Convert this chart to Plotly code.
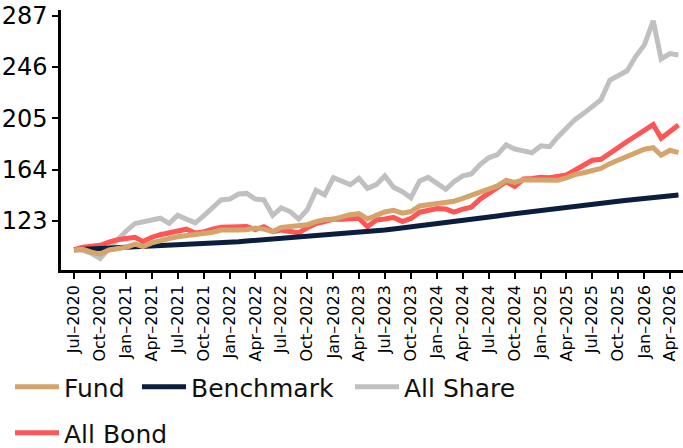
import plotly.graph_objects as go
import pandas as pd

start_month = "2020-07-01"
n_months = 71
dates = pd.date_range(start_month, periods=n_months, freq="MS")

fund = [100, 100.3, 98, 96.5, 99.8, 100.8, 102, 104.5, 102.6, 105.5,
        107.5, 109, 110.3, 111, 111.8, 112.8, 114, 115.8, 115.5, 115.8,
        116, 117.4, 116.5, 114.5, 117.8, 118.5, 118.8, 120, 122.5, 124,
        124.5, 126.5, 128, 128.8, 124.6, 127.5, 130.2, 131.5, 129.2, 130.5,
        135, 136, 137, 137.8, 138.8, 141, 143, 146, 148.5, 151,
        155.5, 153.8, 156, 156, 156.3, 156, 155.5, 157.5, 160, 161.5,
        163, 165, 168.8, 171.5, 174, 177.5, 180.3, 181.5, 175.5, 179.5,
        177.6]

benchmark = [100.0, 100.3, 100.6, 100.9, 101.2, 101.5, 101.8, 102.1, 102.4, 102.7,
             103.0, 103.3, 103.6, 104.0, 104.4, 104.8, 105.2, 105.6, 106.0, 106.4,
             106.9, 107.4, 107.9, 108.4, 108.9, 109.4, 109.9, 110.4, 110.9, 111.4,
             111.9, 112.5, 113.1, 113.7, 114.4, 115.1, 115.8, 116.6, 117.4, 118.2,
             119.0, 119.8, 120.7, 121.6, 122.5, 123.4, 124.3, 125.2, 126.1, 127.0,
             127.9, 128.8, 129.7, 130.6, 131.5, 132.3, 133.1, 133.9, 134.7, 135.5,
             136.3, 137.1, 137.9, 138.7, 139.5, 140.3, 141.0, 141.7, 142.4, 143.1,
             143.8]

all_share = [100, 99.5, 97, 93, 101, 108, 115, 121, 122.5, 123.5,
             125.2, 121, 127.5, 124.5, 121.5, 127, 133, 139.8, 140.5, 144.5,
             145, 140.5, 139.8, 127.5, 133.5, 130.5, 124.5, 132, 147.5, 143.8,
             157.5, 154.5, 152, 157, 149, 152, 159, 150, 146.4, 141.5,
             155, 157.8, 152.5, 148.3, 154.4, 159, 160.6, 168, 173.5, 176,
             183.8, 180.5, 179, 177.5, 183, 182.4, 190, 197, 204, 209,
             214, 220, 235.5, 239, 243, 254.4, 263.7, 283, 252.5, 256.8,
             255.7]

all_bond = [100, 102, 102.8, 103.5, 106, 108, 109, 110, 106.5, 110,
            112, 113.6, 115, 116.4, 113.4, 114.2, 116.5, 118, 118.2, 118.4,
            118.5, 116, 118.4, 114.5, 115.8, 114.5, 113.6, 117.5, 121, 122.5,
            124.4, 124.4, 125.2, 125.2, 118.4, 123.8, 124.5, 125.8, 122.5, 125,
            130, 131.2, 133, 132.5, 130, 132.4, 134, 140.5, 145, 149,
            154.4, 150.5, 156.5, 157, 157.9, 157.5, 158.5, 159.8, 163.5, 167,
            171.5, 172.3, 177.5, 182, 186.5, 190.9, 195.2, 200, 189.1, 194.5,
            199.7]

y_ticks = [123, 164, 205, 246, 287]

names = ["Fund", "Benchmark", "All Share", "All Bond"]
colors = {"Fund": "#d4a46a", "Benchmark": "#0b1e3d", "All Share": "#c0c0c0", "All Bond": "#ff5555"}
series = {"Fund": fund, "Benchmark": benchmark, "All Share": all_share, "All Bond": all_bond}
legend_ids = {"Fund": "legend", "Benchmark": "legend2", "All Share": "legend3", "All Bond": "legend4"}

fig = go.Figure()
for nm in ["All Share", "All Bond", "Benchmark", "Fund"]:
    fig.add_trace(go.Scatter(x=dates, y=series[nm], mode="lines", name=nm,
                             line=dict(color=colors[nm], width=5),
                             legend=legend_ids[nm]))

def px_to_paper_x(px):
    return (px - 61) / 622

def px_to_paper_y(py):
    return (270 - py) / 260

leg_font = dict(family="DejaVu Sans", size=25, color="#111111")
def leg(px, py):
    return dict(x=px_to_paper_x(px), y=px_to_paper_y(py), xanchor="left", yanchor="middle",
                bgcolor="rgba(0,0,0,0)", font=leg_font, itemwidth=44, borderwidth=0)

fig.update_layout(
    width=683, height=448,
    margin=dict(l=61, r=0, t=10, b=178, autoexpand=False),
    plot_bgcolor="white", paper_bgcolor="white",
    legend=leg(10, 387),
    legend2=leg(137, 387),
    legend3=leg(350, 387),
    legend4=leg(10, 433),
    xaxis=dict(
        type="date", range=["2020-05-16", "2026-05-17"],
        tick0="2020-07-01", dtick="M3", tickformat="%b\u2013%Y", tickangle=-90,
        showline=True, linecolor="black", linewidth=2.5,
        ticks="outside", ticklen=6, tickwidth=2, tickcolor="black",
        showgrid=False, zeroline=False,
        tickfont=dict(family="DejaVu Sans", size=16, color="black"),
    ),
    yaxis=dict(
        range=[83.8, 291.6], tickvals=y_ticks, ticktext=[str(v) for v in y_ticks],
        showline=True, linecolor="black", linewidth=2.5,
        ticks="outside", ticklen=6, tickwidth=2, tickcolor="black",
        showgrid=False, zeroline=False,
        tickfont=dict(family="DejaVu Sans", size=24, color="black"),
    ),
    showlegend=True,
)

fig.write_html("out.html", config={"displayModeBar": False},
               post_script="document.body.style.margin='0';document.body.style.overflow='hidden';")
